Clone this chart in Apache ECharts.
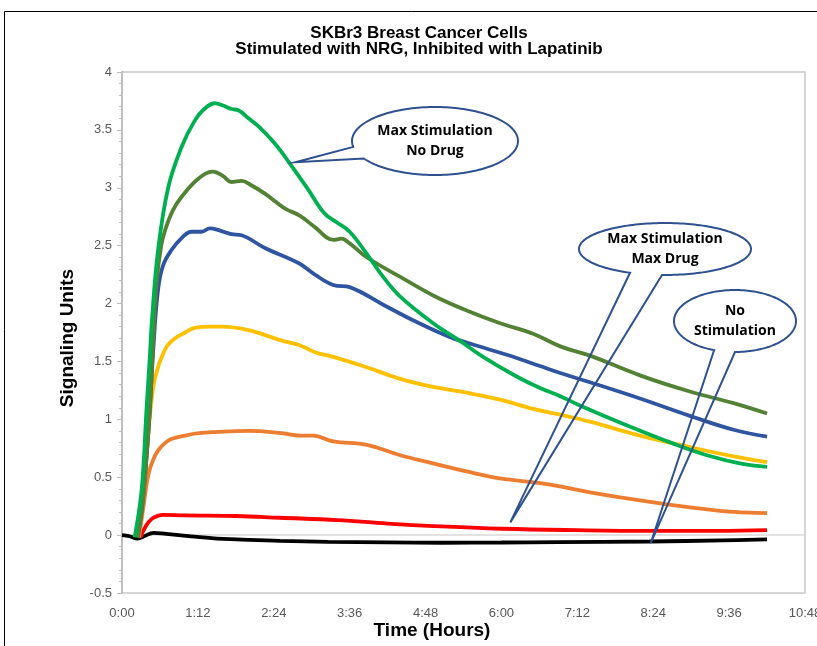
<!DOCTYPE html>
<html>
<head>
    <meta charset="utf-8" />
    <script src="https://cdn.jsdelivr.net/npm/echarts@6/dist/echarts.min.js"></script>
    <style>
        html, body { margin: 0; padding: 0; background: #fff; overflow: hidden; }
        #main { width: 817px; height: 646px; }
    </style>
</head>
<body>
    <div id="main"></div>
    <script type="text/javascript">

        // time in hours, signal in units
        var noStim = [[0, 0], [0.12, -0.01], [0.25, -0.03], [0.35, -0.01], [0.5, 0.02], [0.7, 0.01], [1.09, -0.01], [1.5, -0.03], [1.81, -0.037], [2.5, -0.05], [3.26, -0.058], [4.2, -0.063], [5.07, -0.066], [6.0, -0.064], [6.89, -0.06], [8.34, -0.055], [9.5, -0.045], [10.2, -0.037]];
        var maxDrug = [[0.29, -0.02], [0.38, 0.08], [0.47, 0.14], [0.58, 0.17], [0.65, 0.175], [1.0, 0.17], [1.81, 0.165], [2.5, 0.15], [3.41, 0.13], [4.2, 0.1], [4.93, 0.078], [6.02, 0.055], [7.18, 0.043], [8.34, 0.037], [9.42, 0.037], [10.2, 0.043]];
        var orangeDose = [[0.27, -0.02], [0.34, 0.25], [0.42, 0.53], [0.5, 0.66], [0.57, 0.73], [0.67, 0.79], [0.78, 0.83], [1.0, 0.86], [1.21, 0.88], [1.47, 0.89], [2.0, 0.9], [2.53, 0.88], [2.81, 0.86], [3.02, 0.86], [3.34, 0.81], [3.87, 0.78], [4.4, 0.69], [4.92, 0.62], [5.45, 0.55], [5.98, 0.49], [6.61, 0.45], [6.93, 0.42], [7.4, 0.37], [8.19, 0.3], [8.98, 0.24], [9.67, 0.2], [10.2, 0.19]];
        var yellowDose = [[0.25, -0.02], [0.33, 0.3], [0.43, 0.96], [0.5, 1.3], [0.57, 1.45], [0.63, 1.54], [0.72, 1.64], [0.84, 1.7], [1.0, 1.75], [1.15, 1.79], [1.4, 1.8], [1.58, 1.8], [2.0, 1.77], [2.53, 1.68], [2.81, 1.64], [3.05, 1.58], [3.34, 1.54], [3.87, 1.45], [4.4, 1.35], [4.92, 1.28], [5.45, 1.23], [5.98, 1.17], [6.5, 1.09], [6.93, 1.04], [7.4, 0.98], [8.19, 0.86], [8.98, 0.76], [9.67, 0.68], [10.2, 0.63]];
        var blueDose = [[0.25, -0.02], [0.33, 0.3], [0.43, 1.0], [0.5, 1.65], [0.57, 2.12], [0.65, 2.33], [0.78, 2.46], [0.95, 2.57], [1.1, 2.62], [1.26, 2.62], [1.39, 2.65], [1.55, 2.63], [1.73, 2.6], [1.89, 2.59], [2.26, 2.48], [2.79, 2.35], [3.05, 2.25], [3.34, 2.16], [3.61, 2.14], [4.13, 1.99], [4.66, 1.84], [5.19, 1.71], [5.71, 1.62], [6.24, 1.53], [6.61, 1.46], [6.93, 1.4], [7.4, 1.32], [8.19, 1.18], [8.98, 1.03], [9.67, 0.91], [10.2, 0.85]];
        var oliveDose = [[0.25, -0.02], [0.33, 0.3], [0.43, 1.0], [0.5, 1.75], [0.55, 2.2], [0.62, 2.5], [0.68, 2.63], [0.8, 2.8], [0.94, 2.92], [1.21, 3.08], [1.44, 3.14], [1.6, 3.1], [1.73, 3.05], [1.89, 3.06], [2.05, 3.02], [2.26, 2.95], [2.58, 2.82], [2.81, 2.76], [3.05, 2.66], [3.34, 2.55], [3.47, 2.56], [3.6, 2.52], [3.87, 2.4], [4.4, 2.23], [4.92, 2.07], [5.45, 1.94], [5.98, 1.83], [6.5, 1.74], [6.93, 1.63], [7.4, 1.55], [8.19, 1.38], [8.98, 1.24], [9.67, 1.14], [10.2, 1.05]];
        var noDrug = [[0.2, -0.02], [0.31, 0.39], [0.39, 1.11], [0.44, 1.54], [0.47, 1.83], [0.57, 2.46], [0.73, 3.0], [0.94, 3.35], [1.15, 3.58], [1.3, 3.68], [1.47, 3.73], [1.6, 3.71], [1.73, 3.68], [1.84, 3.67], [2.0, 3.6], [2.16, 3.53], [2.42, 3.38], [2.68, 3.19], [2.95, 2.98], [3.2, 2.78], [3.4, 2.7], [3.6, 2.62], [3.87, 2.43], [4.13, 2.23], [4.4, 2.06], [4.92, 1.83], [5.34, 1.68], [5.71, 1.54], [6.24, 1.37], [6.61, 1.27], [6.93, 1.2], [7.24, 1.12], [7.93, 0.96], [8.72, 0.79], [9.25, 0.69], [9.77, 0.62], [10.2, 0.59]];

        var seriesNames = ['No Stimulation', 'Max Drug', 'Dose 4', 'Dose 3', 'Dose 2', 'Dose 1', 'No Drug'];
        var seriesData = [noStim, maxDrug, orangeDose, yellowDose, blueDose, oliveDose, noDrug];
        var seriesColors = ['#000000', '#FF0000', '#ED7D31', '#FFC000', '#2F55A0', '#548235', '#00B050'];

        // callouts: ellipse (pixels), base angles (deg), tip (data coords)
        var callouts = [
            { text: 'Max Stimulation\nNo Drug', cx: 435, cy: 141, rx: 83, ry: 34, a1: 170, a2: 149, tip: [2.74, 3.22] },
            { text: 'Max Stimulation\nMax Drug', cx: 665, cy: 249, rx: 86, ry: 26, a1: 114, a2: 92, tip: [6.14, 0.11] },
            { text: 'No\nStimulation', cx: 735, cy: 321, rx: 61, ry: 31, a1: 110, a2: 90, tip: [8.36, -0.07] }
        ];

        function fmtTime(v) {
            var m = Math.round(v * 60);
            var h = Math.floor(m / 60);
            var mm = m % 60;
            return h + ':' + (mm < 10 ? '0' + mm : mm);
        }

        var series = [];
        for (var i = 0; i < seriesData.length; i++) {
            series.push({
                name: seriesNames[i],
                type: 'line',
                data: seriesData[i],
                smooth: 0.4,
                showSymbol: false,
                lineStyle: { color: seriesColors[i], width: 3.8 },
                itemStyle: { color: seriesColors[i] }
            });
        }

        var myChart = echarts.init(document.getElementById('main'));
        myChart.setOption({
            animation: false,
            grid: {
                left: 122, top: 72, right: 12, bottom: 53,
                outerBoundsMode: 'none',
                show: true, borderColor: '#C8C8C8', borderWidth: 1.5
            },
            xAxis: {
                type: 'value',
                min: 0, max: 10.8, interval: 1.2,
                axisLine: { show: false, onZero: false },
                axisTick: { show: false },
                splitLine: { show: false },
                axisLabel: {
                    formatter: fmtTime,
                    color: '#595959', fontSize: 13, fontFamily: 'Liberation Sans',
                    margin: 14
                }
            },
            yAxis: {
                type: 'value',
                min: -0.5, max: 4, interval: 0.5,
                axisLine: { show: true, lineStyle: { color: '#BFBFBF', width: 2 } },
                axisTick: { show: true, length: 5, lineStyle: { color: '#BFBFBF' } },
                minorTick: { show: true, splitNumber: 5, length: 3, lineStyle: { color: '#BFBFBF' } },
                splitLine: {
                    show: true,
                    lineStyle: {
                        width: 1.5,
                        color: ['rgba(0,0,0,0)', '#D9D9D9', 'rgba(0,0,0,0)', 'rgba(0,0,0,0)', 'rgba(0,0,0,0)',
                            'rgba(0,0,0,0)', 'rgba(0,0,0,0)', 'rgba(0,0,0,0)', 'rgba(0,0,0,0)', 'rgba(0,0,0,0)']
                    }
                },
                axisLabel: {
                    color: '#595959', fontSize: 13, fontFamily: 'Liberation Sans', margin: 10
                }
            },
            series: series
        });

        // 标注和文字
        var graphics = [
            {
                type: 'rect', silent: true, z: 100,
                shape: { x: 4.5, y: 11.5, width: 900, height: 700 },
                style: { fill: 'none', stroke: '#000', lineWidth: 1 }
            },
            {
                type: 'text', silent: true, z: 100, x: 419, y: 41,
                style: {
                    text: 'SKBr3 Breast Cancer Cells\nStimulated with NRG, Inhibited with Lapatinib',
                    fontSize: 17, fontWeight: 'bold', fontFamily: 'Liberation Sans',
                    lineHeight: 16, fill: '#000', align: 'center', verticalAlign: 'middle'
                }
            },
            {
                type: 'text', silent: true, z: 100, x: 432, y: 631,
                style: {
                    text: 'Time (Hours)', fontSize: 19, fontWeight: 'bold', fontFamily: 'Liberation Sans',
                    fill: '#000', align: 'center', verticalAlign: 'middle'
                }
            },
            {
                type: 'text', silent: true, z: 100, x: 68, y: 338, rotation: Math.PI / 2,
                style: {
                    text: 'Signaling Units', fontSize: 19, fontWeight: 'bold', fontFamily: 'Liberation Sans',
                    fill: '#000', align: 'center', verticalAlign: 'middle'
                }
            }
        ];

        // ellipse outline from a1 round to a2, then out to the tip
        function bubble(c, tip) {
            var pts = [];
            var end = c.a2 + 360;
            for (var a = c.a1; a <= end; a += 2) {
                var r = a * Math.PI / 180;
                pts.push([c.cx + c.rx * Math.cos(r), c.cy + c.ry * Math.sin(r)]);
            }
            var r2 = end * Math.PI / 180;
            pts.push([c.cx + c.rx * Math.cos(r2), c.cy + c.ry * Math.sin(r2)]);
            pts.push(tip);
            return pts;
        }

        callouts.forEach(function (c) {
            var tip = myChart.convertToPixel({ gridIndex: 0 }, c.tip);
            graphics.push({
                type: 'ellipse', silent: true, z: 89,
                shape: { cx: c.cx, cy: c.cy, rx: c.rx, ry: c.ry },
                style: { fill: '#fff', stroke: null }
            });
            graphics.push({
                type: 'polygon', silent: true, z: 90,
                shape: { points: bubble(c, tip) },
                style: { fill: 'none', stroke: '#2F528F', lineWidth: 2, lineJoin: 'miter' }
            });
            graphics.push({
                type: 'text', silent: true, z: 91, x: c.cx, y: c.cy,
                style: {
                    text: c.text, fontSize: 14, fontWeight: 'bold', fontFamily: 'Open Sans',
                    lineHeight: 20, fill: '#000', align: 'center', verticalAlign: 'middle'
                }
            });
        });

        myChart.setOption({ graphic: graphics });

    </script>
</body>
</html>
